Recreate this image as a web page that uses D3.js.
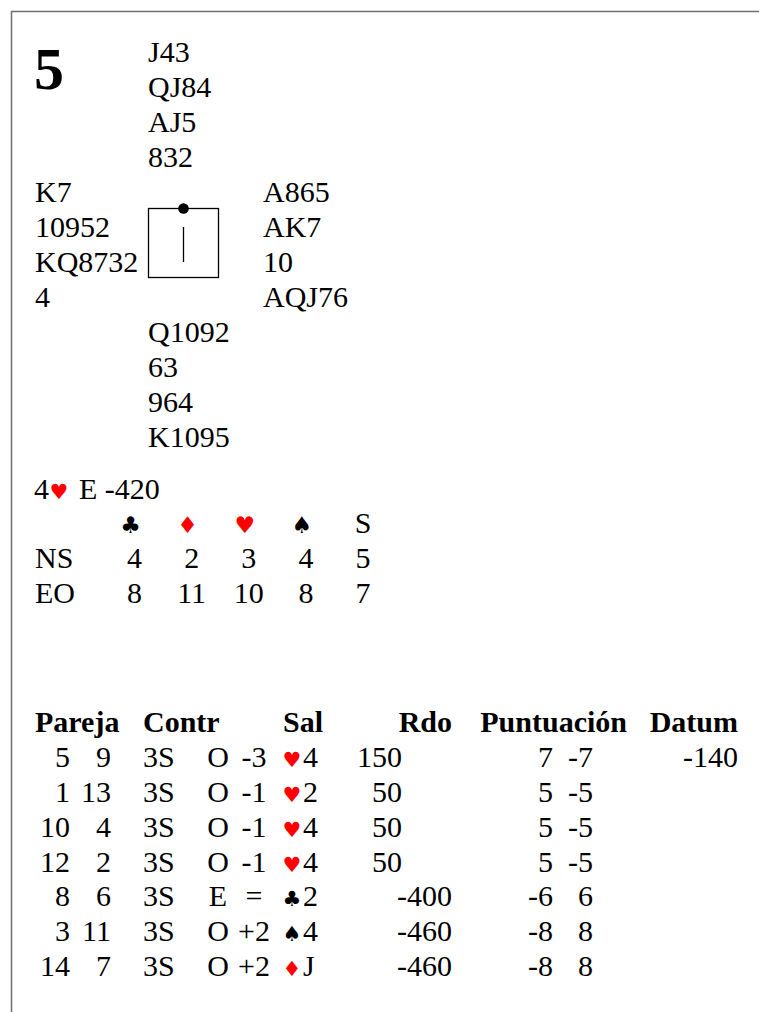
<!DOCTYPE html>
<html>
<head>
<meta charset="utf-8">
<script src="https://cdn.jsdelivr.net/npm/d3@7"></script>
<style>
  html, body { margin: 0; padding: 0; background: #fff; }
  svg { display: block; }
</style>
</head>
<body>
<script>
// ---------- data ----------
const boardNumber = "5";
const north = ["J43", "QJ84", "AJ5", "832"];
const west  = ["K7", "10952", "KQ8732", "4"];
const east  = ["A865", "AK7", "10", "AQJ76"];
const south = ["Q1092", "63", "964", "K1095"];

const parLevel = "4";
const parSuit = "H";
const parText = "E -420";

const strains = ["C", "D", "H", "S", "NT"];
const trickRows = ["NS", "EO"];
const tricksNS = [4, 2, 3, 4, 5];
const tricksEO = [8, 11, 10, 8, 7];

const headers = ["Pareja", "Contr", "Sal", "Rdo", "Puntuación", "Datum"];
const pairNS   = [5, 1, 10, 12, 8, 3, 14];
const pairEO   = [9, 13, 4, 2, 6, 11, 7];
const contract = ["3S", "3S", "3S", "3S", "3S", "3S", "3S"];
const declarer = ["O", "O", "O", "O", "E", "O", "O"];
const overtricks = ["-3", "-1", "-1", "-1", "=", "+2", "+2"];
const leadSuit = ["H", "H", "H", "H", "C", "S", "D"];
const leadRank = ["4", "2", "4", "4", "2", "4", "J"];
const scoreNS  = [150, 50, 50, 50, null, null, null];
const scoreEO  = [null, null, null, null, -400, -460, -460];
const pointsNS = [7, 5, 5, 5, -6, -8, -8];
const pointsEO = [-7, -5, -5, -5, 6, 8, 8];
const datum    = [-140, null, null, null, null, null, null];

// ---------- helpers ----------
const SERIF = "'Liberation Serif', 'Times New Roman', Times, serif";
const SUITF = "'DejaVu Sans', sans-serif";
const SUITSIZE = "21px";
const suitGlyph = { C: "\u2663", D: "\u2666", H: "\u2665", S: "\u2660", NT: "S" };
const suitColor = { C: "#000", D: "#ff0000", H: "#ff0000", S: "#000", NT: "#000" };

const W = 759, H = 1012;
const svg = d3.select("body").append("svg").attr("width", W).attr("height", H)
  .style("font-family", SERIF).style("font-size", "30px");

function txt(x, y, s) {
  return svg.append("text").attr("x", x).attr("y", y)
    .style("font-family", SERIF).style("font-size", "30px").style("fill", "#000").text(s);
}

// frame
svg.append("path")
  .attr("d", `M${W},11.5 H11.5 V${H}`)
  .attr("fill", "none").attr("stroke", "#6e6e6e").attr("stroke-width", 1.5);

// board number
txt(34, 89, boardNumber).style("font-size", "60px").style("font-weight", "bold");

// hand lines
const line = d3.scaleLinear().domain([0, 1]).range([62, 97]);
function hand(cards, x, startLine) {
  svg.selectAll(null).data(cards).enter().append("text")
    .style("font-family", SERIF).style("font-size", "30px")
    .attr("x", x).attr("y", (d, i) => line(startLine + i)).text(d => d);
}
hand(north, 148, 0);
hand(west, 35, 4);
hand(east, 263, 4);
hand(south, 148, 8);

// compass box
svg.append("rect").attr("x", 148.5).attr("y", 208.5).attr("width", 70).attr("height", 69)
  .attr("fill", "none").attr("stroke", "#000").attr("stroke-width", 1.3);
svg.append("line").attr("x1", 183.5).attr("x2", 183.5).attr("y1", 227).attr("y2", 262)
  .attr("stroke", "#000").attr("stroke-width", 1.3);
svg.append("circle").attr("cx", 183.5).attr("cy", 208.5).attr("r", 5.3).attr("fill", "#000");

// par contract
txt(34, 499, parLevel);
svg.append("text").attr("x", 59).attr("y", 499)
  .attr("text-anchor", "middle")
  .style("font-family", SUITF).style("font-size", SUITSIZE)
  .style("fill", suitColor[parSuit])
  .text(suitGlyph[parSuit]);
txt(79, 499, parText);

// tricks table
const tx = d3.scalePoint().domain(strains).range([134.5, 363]);
const ty = d3.scalePoint().domain(["head"].concat(trickRows)).range([533, 603]);
svg.selectAll(null).data(strains).enter().append("text")
  .attr("x", d => d === "NT" ? tx(d) : tx(d) - 4)
  .attr("y", ty("head"))
  .attr("text-anchor", "middle")
  .style("font-family", d => d === "NT" ? SERIF : SUITF)
  .style("font-size", d => d === "NT" ? "30px" : "23px")
  .style("fill", d => suitColor[d])
  .text(d => suitGlyph[d]);
[["NS", tricksNS], ["EO", tricksEO]].forEach(([lab, vals]) => {
  txt(35, ty(lab), lab);
  svg.selectAll(null).data(vals).enter().append("text")
    .style("font-family", SERIF).style("font-size", "30px")
    .attr("x", (d, i) => tx(strains[i])).attr("y", ty(lab))
    .attr("text-anchor", "middle").text(d => d);
});

// results table
const rows = d3.range(pairNS.length);
const ry = d3.scaleLinear().domain([0, rows.length - 1]).range([767, 976]);
const headerY = 732;
const headerX = { "Pareja": [35, "start"], "Contr": [143, "start"], "Sal": [283, "start"],
                  "Rdo": [452, "end"], "Puntuación": [627, "end"], "Datum": [738, "end"] };
svg.selectAll(null).data(headers).enter().append("text")
  .style("font-family", SERIF).style("font-size", "30px").style("font-weight", "bold")
  .attr("x", d => headerX[d][0]).attr("text-anchor", d => headerX[d][1])
  .attr("y", headerY).text(d => d);

function col(values, x, anchor, isSuit, colorFn) {
  svg.selectAll(null).data(values.map((v, i) => ({ v, i })).filter(d => d.v !== null))
    .enter().append("text")
    .style("font-family", isSuit ? SUITF : SERIF)
    .style("font-size", isSuit ? SUITSIZE : "30px")
    .attr("x", x).attr("y", d => ry(d.i))
    .attr("text-anchor", anchor)
    .style("fill", d => colorFn ? colorFn(d) : "#000")
    .text(d => d.v);
}
col(pairNS, 70, "end");
col(pairEO, 111, "end");
col(contract, 143, "start");
col(declarer, 218, "middle");
col(overtricks, 254, "middle");
col(leadSuit.map(s => suitGlyph[s]), 292, "middle", true, d => suitColor[leadSuit[d.i]]);
col(leadRank, 303, "start");
col(scoreNS, 402, "end");
col(scoreEO, 452, "end");
col(pointsNS, 553, "end");
col(pointsEO, 593, "end");
col(datum, 738, "end");
</script>
</body>
</html>
